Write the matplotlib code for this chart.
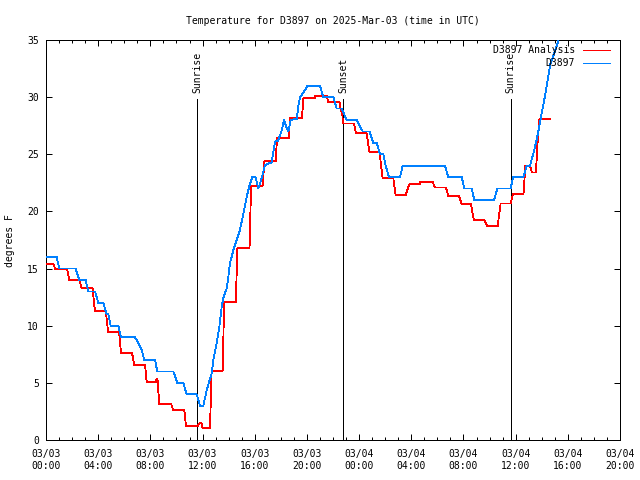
import matplotlib
matplotlib.use("Agg")
import matplotlib.pyplot as plt
from matplotlib.ticker import MultipleLocator

# ---- data (hours since 2025-03-03 00:00 UTC, degrees F) ----
blue_time = [0, 0.82, 1.02, 2.27, 2.55, 3.04, 3.24, 3.76, 4.01, 4.39, 4.65, 4.78, 4.96, 5.54,
             5.75, 6.82, 7.08, 7.33, 7.54, 8.36, 8.53, 9.76, 10.07, 10.53, 10.78, 11.55, 11.81,
             12.06, 12.32, 12.7, 12.83, 13.08, 13.29, 13.47, 13.59, 13.85, 13.98, 14.1, 14.36,
             14.62, 14.87, 15.13, 15.39, 15.58, 15.81, 16.07, 16.28, 16.53, 16.79, 17.3, 17.55,
             17.8, 18.07, 18.24, 18.45, 18.58, 18.76, 19.22, 19.34, 19.47, 19.85, 20.03, 21.0,
             21.26, 22.03, 22.28, 22.67, 23.05, 23.82, 24.28, 24.79, 25.09, 25.35, 25.6, 25.86,
             26.04, 26.29, 27.14, 27.34, 30.59, 30.84, 31.87, 32.07, 32.63, 32.83, 34.34, 34.6,
             35.62, 35.8, 36.6, 36.85, 37.1, 37.36, 37.61, 37.81, 37.99, 38.24, 38.5, 38.67,
             38.88, 39.13, 39.51]
blue_temp = [16, 16, 15, 15, 14, 14, 13, 13, 12, 12, 11, 11, 10, 10,
             9, 9, 8.46, 7.87, 7, 7, 6, 6, 5, 5, 4, 4, 3,
             3, 4.37, 5.83, 7.0, 8.46, 9.92, 11.67, 12.4, 13.27, 14.3, 15.46, 16.6,
             17.5, 18.4, 19.8, 21.3, 22.2, 23.0, 23.0, 22.0, 22.9, 24.06, 24.3, 26.1,
             26.2, 27.1, 28.0, 27.3, 27.0, 28.0, 28.1, 29.2, 30.0, 30.6, 31.0, 31.0,
             30.0, 30.0, 29.0, 29.0, 28.0, 28.0, 27.0, 27.0, 26.0, 26.0, 25.0, 25.0,
             24.0, 23.0, 23.0, 24.0, 24.0, 23.0, 23.0, 22.0, 22.0, 21.0, 21.0, 22.0,
             22.0, 23.0, 23.0, 24.0, 24.0, 25.08, 26.25, 27.42, 28.58, 30.04, 31.8, 32.96,
             33.54, 34.4, 35.9]

red_time = [0.0, 0.58, 0.7, 1.62, 1.78, 2.57, 2.73, 3.57, 3.75, 4.58, 4.76, 5.6, 5.75, 6.6,
            6.77, 7.6, 7.72, 8.4, 8.48, 8.55, 8.68, 9.6, 9.75, 10.6, 10.73, 11.62, 11.8, 11.9,
            12.0, 12.57, 12.7, 13.55, 13.65, 14.55, 14.67, 15.6, 15.72, 16.6, 16.75, 17.62,
            17.7, 18.6, 18.7, 19.62, 19.73, 20.6, 20.65, 21.5, 21.65, 22.5, 22.6, 22.7, 22.76,
            23.6, 23.77, 24.58, 24.79, 25.56, 25.8, 26.62, 26.8, 27.57, 27.85, 28.67, 28.7,
            29.64, 29.8, 30.66, 30.84, 31.66, 31.87, 32.57, 32.8, 33.6, 33.83, 34.62, 34.85,
            35.62, 35.8, 36.6, 36.75, 37.1, 37.25, 37.56, 37.66, 37.82, 38.62]
red_temp = [15.4, 15.4, 14.93, 14.93, 14.0, 14.0, 13.27, 13.27, 11.29, 11.29, 9.45, 9.45, 7.58, 7.58,
            6.53, 6.53, 5.05, 5.05, 5.31, 5.31, 3.15, 3.15, 2.62, 2.62, 1.22, 1.22, 1.52, 1.52,
            1.08, 1.08, 6.07, 6.07, 12.1, 12.1, 16.77, 16.77, 22.2, 22.2, 24.44, 24.44,
            26.4, 26.4, 28.15, 28.15, 29.9, 29.9, 30.13, 30.13, 29.55, 29.55, 28.8, 28.8, 27.7,
            27.7, 26.83, 26.83, 25.23, 25.23, 22.95, 22.95, 21.41, 21.41, 22.37, 22.37, 22.6,
            22.6, 22.1, 22.1, 21.35, 21.35, 20.65, 20.65, 19.25, 19.25, 18.72, 18.72, 20.7,
            20.7, 21.52, 21.52, 24.0, 24.0, 23.4, 23.4, 25.7, 28.06, 28.06]

assert len(blue_time) == len(blue_temp), (len(blue_time), len(blue_temp))
assert len(red_time) == len(red_temp), (len(red_time), len(red_temp))

event_names = ["Sunrise", "Sunset", "Sunrise"]
event_times = [11.6, 22.79, 35.62]
event_top = 29.8

tick_hours = [0, 4, 8, 12, 16, 20, 24, 28, 32, 36, 40, 44]
tick_labels = ["03/03\n00:00", "03/03\n04:00", "03/03\n08:00", "03/03\n12:00",
               "03/03\n16:00", "03/03\n20:00", "03/04\n00:00", "03/04\n04:00",
               "03/04\n08:00", "03/04\n12:00", "03/04\n16:00", "03/04\n20:00"]

title = "Temperature for D3897 on 2025-Mar-03 (time in UTC)"
series_names = ["D3897 Analysis", "D3897"]
series_colors = ["#ff0000", "#0080ff"]

# ---- drawing ----
plt.rcParams['font.family'] = ['DejaVu Sans Mono']
plt.rcParams['font.size'] = 7

LW = 0.72
DLW = 0.6
fig = plt.figure(figsize=(6.4, 4.8), dpi=100)
ax = fig.add_axes([46/640, 40/480, 574/640, 400/480])

ax.plot(red_time, red_temp, color=series_colors[0], lw=DLW, antialiased=False, zorder=3)
ax.plot(blue_time, blue_temp, color=series_colors[1], lw=DLW, antialiased=False, zorder=3)

for name, t in zip(event_names, event_times):
    ax.plot([t, t], [0, event_top], color="black", lw=LW, antialiased=False, zorder=2)
    ax.text(t, event_top + 0.55, name, rotation=90, ha="center", va="bottom", fontsize=7)

ax.set_xlim(0, 44)
ax.set_ylim(0, 35)
ax.set_xticks(tick_hours)
ax.set_xticklabels(tick_labels, linespacing=1.25)
ax.xaxis.set_minor_locator(MultipleLocator(1))
ax.set_yticks(range(0, 36, 5))
ax.tick_params(axis="both", which="both", direction="in", top=True, right=True,
               width=LW, labelsize=7)
ax.tick_params(axis="both", which="major", length=4)
ax.tick_params(axis="both", which="minor", length=2.2)
ax.tick_params(axis="x", which="major", pad=6.5)
ax.tick_params(axis="y", which="major", pad=5)
for s in ax.spines.values():
    s.set_linewidth(LW)

ax.set_title(title, fontsize=7, pad=11.5)
fig.text(10/640, 1 - 241/480, "degrees F", rotation=90, ha="center", va="center", fontsize=7)

# manual legend (right-aligned text, sample line on the right)
leg_rows = [0.975, 0.943]
for i, (nm, col) in enumerate(zip(series_names, series_colors)):
    y = leg_rows[i]
    ax.text(0.9216, y, nm, transform=ax.transAxes, ha="right", va="center", fontsize=7)
    ax.plot([0.9355, 0.9826], [y, y], transform=ax.transAxes, color=col, lw=LW,
            antialiased=False, clip_on=False)

fig.savefig("out.png", dpi=100)
